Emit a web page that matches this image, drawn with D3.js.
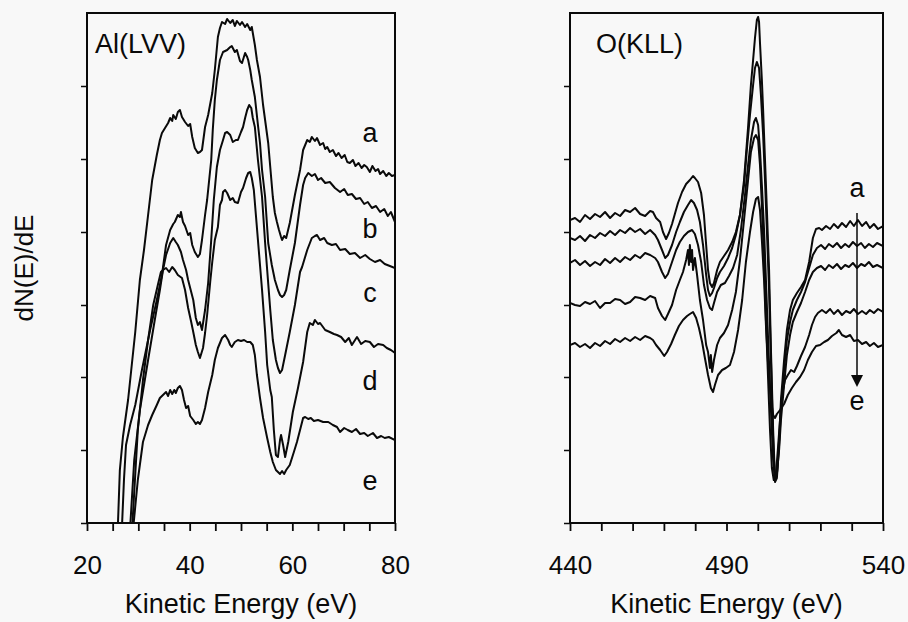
<!DOCTYPE html>
<html>
<head>
<meta charset="utf-8">
<script src="https://cdn.jsdelivr.net/npm/d3@7"></script>
<style>
    body { margin: 0; background: #f8f8f8; }
    svg { display: block; }
    text { font-family: "Liberation Sans", Arial, sans-serif; fill: #0a0a0a; }
</style>
</head>
<body>
<svg id="svg"></svg>
<script>
//Al(LVV) spectra: [kinetic energy (eV), dN/dE (arb. units)]
let alA = [[26.0,-5],[26.4,53],[27.0,86],[28.0,123],[29.4,191],[30.3,243],[31.1,273],[31.9,308],[32.7,343],[33.6,368],[34.2,383],[34.6,390],[35.2,395],[35.8,400],[36.2,405],[36.6,402],[36.8,408],[37.3,404],[37.7,411],[38.1,413],[38.5,406],[39.1,401],[39.7,397],[40.1,399],[40.5,386],[41.0,375],[41.6,370],[42.0,371],[42.4,373],[43.0,396],[43.6,408],[44.4,430],[44.9,453],[45.5,486],[45.9,495],[46.3,501],[46.9,499],[47.3,504],[47.9,500],[48.4,503],[48.8,497],[49.2,502],[49.8,498],[50.2,501],[50.8,496],[51.2,499],[51.8,493],[52.1,496],[52.7,478],[53.1,463],[53.7,446],[54.3,418],[55.3,380],[56.2,326],[56.6,310],[57.0,301],[57.4,293],[57.8,286],[58.0,283],[58.4,287],[58.8,285],[59.5,300],[60.5,328],[61.5,353],[62.1,373],[62.9,383],[63.4,381],[63.8,386],[64.4,382],[64.8,385],[65.4,378],[66.0,380],[66.4,374],[66.8,376],[67.3,371],[67.9,373],[68.5,367],[69.0,370],[69.6,365],[70.2,368],[70.7,361],[71.2,360],[71.8,363],[72.3,357],[72.9,360],[73.5,355],[74.0,358],[74.5,356],[75.1,351],[75.6,357],[76.2,352],[76.7,354],[77.1,349],[77.7,352],[78.3,347],[78.8,350],[79.4,347],[80.0,348]]
let alB = [[26.8,-5],[27.2,43],[27.6,78],[28.4,98],[29.4,118],[30.7,153],[32.3,193],[33.6,223],[34.6,248],[35.4,278],[36.2,293],[36.8,299],[37.1,301],[37.7,308],[38.1,306],[38.3,311],[38.7,301],[39.1,297],[39.7,288],[40.1,290],[40.5,278],[41.0,271],[41.6,266],[42.0,269],[42.4,283],[43.0,308],[43.4,323],[43.8,343],[44.2,363],[44.5,393],[44.9,423],[45.3,443],[45.9,463],[46.5,471],[47.3,473],[47.9,476],[48.2,477],[48.8,471],[49.2,473],[49.8,462],[50.2,460],[50.8,470],[51.2,466],[51.4,463],[51.8,453],[52.1,443],[52.7,426],[53.3,398],[53.7,380],[54.1,353],[54.7,326],[55.3,280],[56.0,258],[56.6,243],[57.2,233],[57.6,228],[58.0,226],[58.4,228],[58.8,233],[59.5,253],[60.5,280],[61.5,318],[62.1,338],[62.5,345],[63.1,350],[63.8,347],[64.4,349],[65.0,343],[65.6,345],[66.4,340],[67.3,341],[68.3,335],[69.3,331],[70.1,334],[70.8,328],[71.6,329],[72.4,324],[73.2,325],[74.0,319],[74.7,321],[75.5,315],[76.3,317],[77.1,311],[77.9,314],[78.6,307],[79.2,311],[80.0,301]]
let alC = [[28.4,-5],[29.2,63],[30.3,113],[31.9,163],[33.2,203],[34.2,233],[34.8,253],[35.4,268],[36.2,280],[36.8,285],[37.3,281],[37.7,278],[38.3,271],[38.7,263],[39.3,253],[39.7,243],[40.3,231],[40.7,223],[41.2,205],[41.6,198],[42.0,201],[42.4,193],[43.0,213],[43.6,240],[44.2,283],[44.7,323],[45.3,356],[45.9,373],[46.5,383],[46.9,390],[47.3,391],[47.9,388],[48.4,381],[49.0,383],[49.4,383],[50.0,391],[50.4,396],[50.8,405],[51.2,413],[51.6,418],[52.0,415],[52.3,405],[52.7,396],[53.3,363],[54.1,326],[54.7,280],[55.1,253],[55.7,213],[56.2,183],[56.8,163],[57.2,155],[57.6,150],[58.0,153],[58.6,168],[59.5,191],[60.5,218],[61.5,251],[61.9,256],[62.9,273],[63.8,285],[64.4,287],[64.8,288],[65.4,283],[66.2,285],[66.8,280],[67.7,278],[68.5,279],[69.3,273],[70.3,274],[71.2,269],[72.2,270],[73.2,265],[74.2,268],[75.1,264],[76.1,261],[77.1,263],[78.0,259],[79.0,257],[80.0,255]]
let alD = [[28.8,-5],[29.9,93],[30.9,143],[31.9,183],[32.9,218],[33.8,238],[34.4,251],[34.8,253],[35.4,255],[36.0,251],[36.6,256],[37.1,253],[37.7,248],[38.5,245],[39.1,233],[39.7,215],[40.3,201],[40.7,191],[41.2,178],[41.6,171],[42.0,165],[42.6,175],[43.0,190],[43.4,208],[44.0,241],[44.4,261],[44.9,283],[45.5,296],[45.9,318],[46.3,323],[46.5,331],[46.9,333],[47.3,330],[47.9,323],[48.4,325],[48.8,321],[49.4,320],[50.0,331],[50.4,335],[51.0,345],[51.4,350],[51.8,351],[52.1,345],[52.5,333],[52.9,308],[53.3,283],[53.7,258],[54.1,233],[54.7,191],[55.1,158],[55.7,133],[56.0,126],[56.4,93],[56.8,68],[57.2,66],[57.6,83],[57.8,88],[58.2,78],[58.6,66],[59.2,81],[60.1,111],[61.1,135],[62.1,161],[62.9,191],[63.4,200],[64.0,198],[64.4,203],[65.0,199],[65.4,200],[66.4,193],[67.3,191],[68.1,189],[68.7,188],[69.5,186],[70.3,181],[71.0,185],[71.6,178],[72.6,186],[73.4,179],[74.2,182],[75.1,181],[75.9,176],[76.7,179],[77.7,178],[78.4,175],[79.2,173],[80.0,170]]
let alE = [[29.0,-5],[29.9,43],[30.9,81],[31.9,98],[32.7,108],[33.6,118],[34.2,125],[34.8,128],[35.4,131],[35.8,127],[36.2,133],[36.6,129],[37.0,133],[37.3,130],[37.7,135],[38.1,137],[38.5,133],[38.9,123],[39.3,115],[39.7,117],[40.1,107],[40.7,103],[41.2,99],[41.6,101],[42.0,99],[42.4,103],[43.0,115],[43.6,131],[44.4,148],[44.9,163],[45.5,175],[46.3,185],[46.9,188],[47.5,183],[47.9,178],[48.2,176],[48.8,181],[49.4,183],[50.0,182],[50.6,183],[51.2,181],[51.8,181],[52.3,178],[52.7,168],[53.1,148],[53.7,125],[54.3,105],[55.1,85],[55.7,71],[56.2,61],[56.8,53],[57.2,51],[57.6,49],[58.0,52],[58.4,49],[58.8,53],[59.5,58],[60.3,71],[60.9,81],[61.5,93],[62.1,105],[62.5,106],[63.1,104],[63.6,105],[64.2,102],[65.0,103],[66.0,101],[67.0,101],[67.9,98],[68.7,96],[69.3,91],[70.1,95],[70.8,93],[71.6,91],[72.4,94],[73.2,89],[74.0,90],[74.7,87],[75.7,90],[76.5,85],[77.3,87],[78.0,85],[78.8,86],[80.0,83]]

//O(KLL) spectra
let oA = [[440.0,303],[441.6,305],[443.2,301],[444.8,308],[446.4,304],[448.0,309],[449.6,306],[451.2,311],[452.8,305],[454.4,310],[456.0,307],[457.6,313],[459.2,311],[460.8,315],[462.4,309],[464.0,307],[465.6,312],[466.5,311],[467.5,305],[468.8,301],[469.7,291],[470.7,284],[471.6,290],[472.6,299],[473.5,309],[474.5,320],[475.8,331],[477.1,339],[478.3,343],[479.3,347],[479.9,345],[480.9,341],[481.9,330],[482.8,308],[483.5,278],[484.1,253],[484.7,240],[485.4,236],[486.0,240],[487.0,253],[487.9,261],[489.2,267],[490.5,273],[491.8,281],[493.0,291],[494.3,308],[495.6,343],[496.9,396],[497.8,438],[498.5,463],[499.1,485],[499.7,503],[500.1,506],[500.4,501],[500.7,480],[501.3,443],[501.7,413],[502.3,363],[502.9,313],[503.6,253],[504.2,173],[504.9,93],[505.5,43],[506.1,48],[506.8,83],[507.4,123],[508.4,163],[509.3,193],[510.3,213],[511.2,223],[512.5,230],[513.8,236],[515.1,243],[516.4,261],[517.6,285],[518.6,294],[519.6,295],[520.5,293],[521.8,297],[523.1,294],[524.3,299],[525.6,295],[526.9,300],[528.2,296],[529.5,302],[530.7,297],[532.0,303],[533.3,297],[534.6,301],[535.8,295],[537.1,299],[538.4,294],[540.0,297]]
let oB = [[440.0,285],[441.6,283],[443.2,287],[444.8,282],[446.4,288],[448.0,285],[449.6,290],[451.2,287],[452.8,292],[454.4,288],[456.0,293],[457.6,290],[459.2,295],[460.8,291],[462.4,294],[464.0,289],[465.6,293],[467.2,288],[468.1,283],[469.4,273],[470.4,265],[471.3,268],[472.6,278],[473.9,291],[475.1,301],[476.4,311],[477.7,318],[478.7,323],[479.6,320],[480.6,313],[481.5,301],[482.5,278],[483.5,248],[484.1,233],[484.7,227],[485.4,230],[486.0,235],[487.0,245],[487.9,251],[489.2,257],[490.5,265],[491.8,275],[493.0,288],[494.3,308],[495.6,338],[496.5,373],[497.5,408],[498.5,438],[499.1,455],[499.7,461],[500.4,455],[501.0,428],[501.7,388],[502.3,343],[502.9,293],[503.6,233],[504.2,163],[504.9,83],[505.5,41],[506.1,45],[506.8,78],[507.4,113],[508.4,153],[509.3,183],[510.3,201],[511.2,213],[512.5,223],[513.8,231],[515.1,241],[516.4,255],[517.6,268],[518.9,275],[520.2,278],[521.5,274],[522.7,279],[524.0,276],[525.3,280],[526.6,275],[527.9,279],[529.1,276],[530.4,281],[531.7,277],[533.0,280],[534.2,275],[535.5,279],[536.8,276],[538.1,280],[540.0,277]]
let oC = [[440.0,260],[441.6,263],[443.2,258],[444.8,262],[446.4,257],[448.0,261],[449.6,258],[451.2,264],[452.8,260],[454.4,265],[456.0,261],[457.6,266],[459.2,263],[460.8,268],[462.4,265],[464.0,270],[465.6,268],[467.2,265],[468.1,261],[469.4,251],[470.4,245],[471.3,249],[472.6,261],[473.9,273],[475.1,281],[476.4,287],[477.7,291],[479.0,293],[479.9,289],[480.9,278],[481.9,261],[482.8,238],[483.8,223],[484.7,215],[485.4,213],[486.0,220],[487.0,231],[488.2,238],[489.5,240],[490.8,247],[492.1,255],[493.4,268],[494.6,293],[495.9,328],[496.9,358],[497.8,383],[498.8,401],[499.4,405],[500.1,398],[500.7,373],[501.3,338],[502.0,293],[502.6,243],[503.3,183],[504.2,113],[504.9,63],[505.5,43],[506.1,49],[506.8,73],[507.4,103],[508.4,138],[509.3,168],[510.3,188],[511.2,201],[512.5,211],[513.8,220],[515.1,231],[516.4,243],[517.6,251],[518.9,255],[520.2,257],[521.5,253],[522.7,258],[524.0,255],[525.3,259],[526.6,254],[527.9,258],[529.1,256],[530.4,260],[531.7,255],[533.0,259],[534.2,257],[535.5,261],[536.8,256],[538.1,258],[540.0,255]]
let oD = [[440.0,220],[441.6,218],[443.2,217],[444.8,221],[446.4,219],[448.0,222],[449.6,215],[451.2,220],[452.8,220],[454.4,224],[456.0,223],[457.6,219],[459.2,221],[460.8,226],[462.4,225],[464.0,223],[465.6,227],[467.2,225],[468.1,215],[469.4,207],[470.4,203],[471.3,209],[472.6,218],[473.9,233],[475.1,243],[476.1,251],[477.1,263],[477.7,273],[478.0,258],[478.3,278],[478.7,261],[479.0,273],[479.3,253],[479.9,265],[480.6,248],[481.5,223],[482.5,203],[483.5,178],[484.1,171],[484.7,155],[485.0,168],[485.4,151],[486.0,163],[487.0,178],[487.9,185],[489.2,190],[490.5,198],[491.8,213],[493.0,231],[494.3,263],[495.6,303],[496.9,343],[497.8,371],[498.8,385],[499.4,388],[500.1,383],[500.7,358],[501.3,318],[502.0,263],[502.6,203],[503.3,143],[503.9,93],[504.5,55],[505.1,43],[505.8,49],[506.4,73],[507.1,103],[507.7,128],[508.7,143],[509.6,148],[510.6,153],[511.6,151],[512.5,157],[513.8,167],[515.1,176],[516.4,188],[517.3,198],[518.3,206],[519.2,210],[520.5,213],[521.8,210],[523.1,214],[524.3,209],[525.6,213],[526.9,208],[528.2,212],[529.5,210],[530.7,214],[532.0,209],[533.3,212],[534.6,209],[535.8,213],[537.1,210],[538.4,214],[540.0,211]]
let oE = [[440.0,178],[441.6,180],[443.2,176],[444.8,179],[446.4,175],[448.0,180],[449.6,177],[451.2,182],[452.8,179],[454.4,184],[456.0,181],[457.6,185],[459.2,182],[460.8,186],[462.4,183],[464.0,187],[465.6,185],[466.5,183],[467.5,178],[468.8,173],[470.1,167],[471.0,171],[472.3,179],[473.5,188],[474.8,197],[476.1,203],[477.4,207],[478.3,209],[479.3,211],[480.3,205],[481.2,195],[482.2,181],[483.1,165],[484.1,148],[485.0,135],[485.7,131],[486.3,138],[487.3,148],[488.6,153],[489.8,155],[491.1,158],[492.4,171],[493.7,193],[495.0,223],[496.2,261],[497.5,291],[498.5,311],[499.4,324],[500.1,326],[500.7,313],[501.3,283],[502.0,243],[502.6,198],[503.3,158],[504.2,123],[504.9,108],[505.5,105],[506.1,109],[507.1,113],[508.4,119],[509.6,128],[510.9,135],[512.2,141],[513.5,146],[514.8,153],[516.0,163],[517.3,171],[518.6,177],[519.9,178],[521.2,181],[522.4,183],[523.7,187],[525.1,190],[525.9,193],[526.9,188],[528.2,186],[529.5,188],[530.7,182],[532.0,183],[533.3,179],[534.6,181],[535.8,177],[537.1,180],[538.4,176],[540.0,178]]

//axis ticks & labels
let alTickLabels = [20, 40, 60, 80]
let oTickLabels = [440, 490, 540]
let yTicks = [0, 73, 146, 218, 291, 364, 437]

/*---------------------------------------------------------------------*/
let svg = d3.select('#svg')
    .attr('width', 908)
    .attr('height', 622)

let plotTop = 13
let plotBottom = 523
let yMax = 510

//draws one framed spectrum panel
let drawPanel = (p) => {
    let x = d3.scaleLinear().domain(p.xDomain).range([p.left, p.right])
    let y = d3.scaleLinear().domain([0, yMax]).range([plotBottom, plotTop])
    let g = svg.append('g')

    //clip the curves to the frame
    g.append('clipPath')
        .attr('id', p.id)
        .append('rect')
        .attr('x', p.left)
        .attr('y', plotTop)
        .attr('width', p.right - p.left)
        .attr('height', plotBottom - plotTop)

    //bottom axis
    let xAxis = d3.axisBottom(x)
        .tickValues(d3.range(p.xDomain[0], p.xDomain[1] + 0.1, p.step))
        .tickSize(8)
        .tickPadding(25)
        .tickFormat(d => p.labels.includes(d) ? d : '')
    let xGroup = g.append('g')
        .attr('transform', `translate(0,${plotBottom})`)
        .call(xAxis)
    xGroup.select('.domain').remove()
    xGroup.selectAll('line').attr('stroke', '#0a0a0a').attr('stroke-width', 1.8)
    xGroup.selectAll('text')
        .attr('font-size', 26)
        .attr('font-family', '"Liberation Sans", Arial, sans-serif')
        .attr('fill', '#0a0a0a')

    //left ticks, no labels
    let yAxis = d3.axisLeft(y).tickValues(yTicks).tickSize(6).tickFormat('')
    let yGroup = g.append('g')
        .attr('transform', `translate(${p.left},0)`)
        .call(yAxis)
    yGroup.select('.domain').remove()
    yGroup.selectAll('line').attr('stroke', '#0a0a0a').attr('stroke-width', 1.5)

    //frame
    g.append('rect')
        .attr('x', p.left)
        .attr('y', plotTop)
        .attr('width', p.right - p.left)
        .attr('height', plotBottom - plotTop)
        .attr('fill', 'none')
        .attr('stroke', '#0a0a0a')
        .attr('stroke-width', 2)

    //curves
    let line = d3.line().x(d => x(d[0])).y(d => y(d[1]))
    g.append('g')
        .attr('clip-path', `url(#${p.id})`)
        .selectAll('path')
        .data(p.curves)
        .join('path')
        .attr('d', line)
        .attr('fill', 'none')
        .attr('stroke', '#0a0a0a')
        .attr('stroke-width', 2)
        .attr('stroke-linejoin', 'round')

    //panel title & x title
    g.append('text')
        .attr('x', p.left + p.titleDx)
        .attr('y', 53)
        .attr('font-size', 27)
        .text(p.title)
    g.append('text')
        .attr('x', (p.left + p.right) / 2)
        .attr('y', 613)
        .attr('text-anchor', 'middle')
        .attr('font-size', 27)
        .text('Kinetic Energy (eV)')

    return { x, y, g }
}

let al = drawPanel({
    id: 'clipAl', left: 87, right: 395, xDomain: [20, 80], step: 5,
    labels: alTickLabels, curves: [alA, alB, alC, alD, alE],
    title: 'Al(LVV)', titleDx: 8
})
let ox = drawPanel({
    id: 'clipO', left: 570, right: 883, xDomain: [440, 540], step: 10,
    labels: oTickLabels, curves: [oA, oB, oC, oD, oE],
    title: 'O(KLL)', titleDx: 26
})

//curve letters on the Al panel
let letters = ['a', 'b', 'c', 'd', 'e']
let letterY = [142, 238, 302, 390, 490]
letters.forEach((l, i) => {
    al.g.append('text')
        .attr('x', 370)
        .attr('y', letterY[i])
        .attr('text-anchor', 'middle')
        .attr('font-size', 27)
        .text(l)
})

//arrow a -> e on the O panel
ox.g.append('text').attr('x', 857).attr('y', 197).attr('text-anchor', 'middle').attr('font-size', 27).text('a')
ox.g.append('text').attr('x', 857).attr('y', 410).attr('text-anchor', 'middle').attr('font-size', 27).text('e')
ox.g.append('line')
    .attr('x1', 857).attr('x2', 857)
    .attr('y1', 213).attr('y2', 378)
    .attr('stroke', '#0a0a0a').attr('stroke-width', 1.5)
ox.g.append('path')
    .attr('d', 'M851,375 L863,375 L857,387 Z')
    .attr('fill', '#0a0a0a')

//y title
svg.append('text')
    .attr('transform', 'translate(33,268) rotate(-90)')
    .attr('text-anchor', 'middle')
    .attr('font-size', 26)
    .text('dN(E)/dE')
</script>
</body>
</html>
